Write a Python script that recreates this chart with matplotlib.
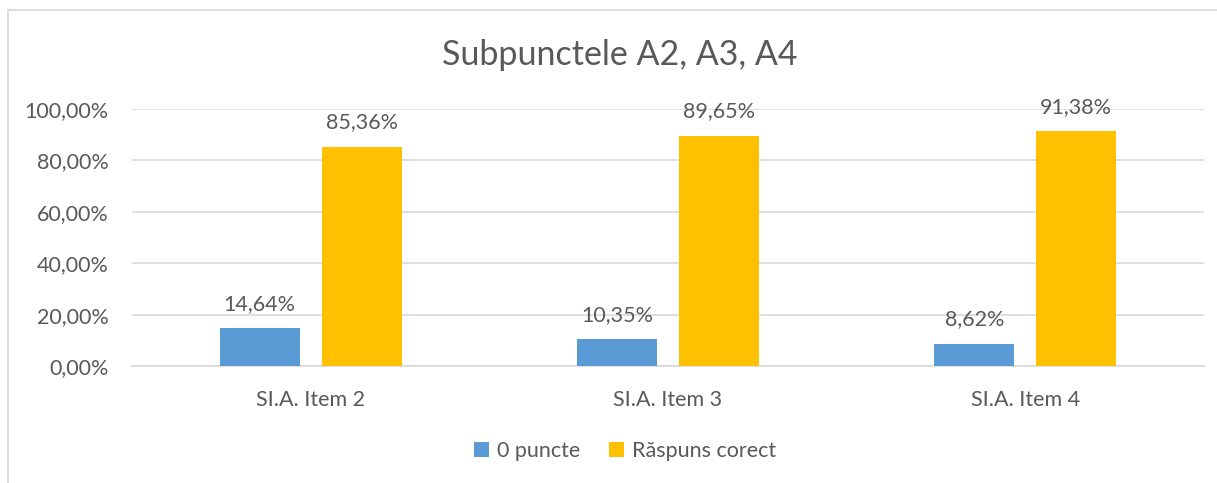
import matplotlib
matplotlib.use("Agg")
import matplotlib.pyplot as plt
from matplotlib.patches import Rectangle
from matplotlib.ticker import FuncFormatter
import numpy as np

categories = ["SI.A. Item 2", "SI.A. Item 3", "SI.A. Item 4"]
series_names = ["0 puncte", "Răspuns corect"]
zero_points = [14.64, 10.35, 8.62]
correct = [85.36, 89.65, 91.38]
title = "Subpunctele A2, A3, A4"

plt.rcParams['font.family'] = ['Lato', 'DejaVu Sans']
txt = "#595959"
grid = "#d9d9d9"
fs = 15.5

fig = plt.figure(figsize=(12.17, 4.83), dpi=100)
fig.patch.set_facecolor("white")

# outer chart border
fig.patches.append(Rectangle((8/1217, -0.05), 1.2, 1 - 10/483 + 0.05,
                             transform=fig.transFigure, fill=False,
                             edgecolor=grid, linewidth=1.3))

ax = fig.add_axes([132/1217, 1 - 366/483, (1204-132)/1217, (366-109)/483])
x = np.arange(len(categories))
w = 0.224
off = 0.1428
b1 = ax.bar(x - off, [v/100 for v in zero_points], w, color="#5B9BD5", label=series_names[0], zorder=3)
b2 = ax.bar(x + off, [v/100 for v in correct], w, color="#FFC000", label=series_names[1], zorder=3)

for bars, vals in ((b1, zero_points), (b2, correct)):
    for r, v in zip(bars, vals):
        ax.annotate(f"{v:.2f}%".replace(".", ","),
                    (r.get_x() + r.get_width()/2, r.get_height()),
                    xytext=(0, 17.5), textcoords="offset points",
                    ha="center", va="center", fontsize=fs, color=txt, zorder=4,
                    annotation_clip=False)

ax.set_xlim(-0.5, 2.5)
ax.set_ylim(0, 1.0)
ax.set_yticks(np.arange(0, 1.01, 0.2))
ax.yaxis.set_major_formatter(FuncFormatter(lambda v, p: f"{v*100:.2f}%".replace(".", ",")))
ax.set_xticks(x)
ax.set_xticklabels(categories)
ax.tick_params(axis="both", length=0, labelsize=fs, colors=txt)
ax.tick_params(axis="y", pad=17)
ax.tick_params(axis="x", pad=17)
ax.yaxis.grid(True, color=grid, linewidth=1.2, zorder=0)
for s in ("top", "right", "left"):
    ax.spines[s].set_visible(False)
ax.spines["bottom"].set_color(grid)
ax.spines["bottom"].set_linewidth(1.2)

fig.text(620/1217, 1 - 55/483, title, ha="center", va="center", fontsize=24.5, color=txt)

fig.legend(handles=[b1, b2], labels=series_names, loc="center",
           bbox_to_anchor=(625/1217, 1 - 451/483), ncol=2, frameon=False,
           fontsize=fs, labelcolor=txt, handlelength=0.7, handleheight=0.7,
           handletextpad=0.4, columnspacing=1.3)

fig.savefig("out.png", dpi=100, facecolor="white")
